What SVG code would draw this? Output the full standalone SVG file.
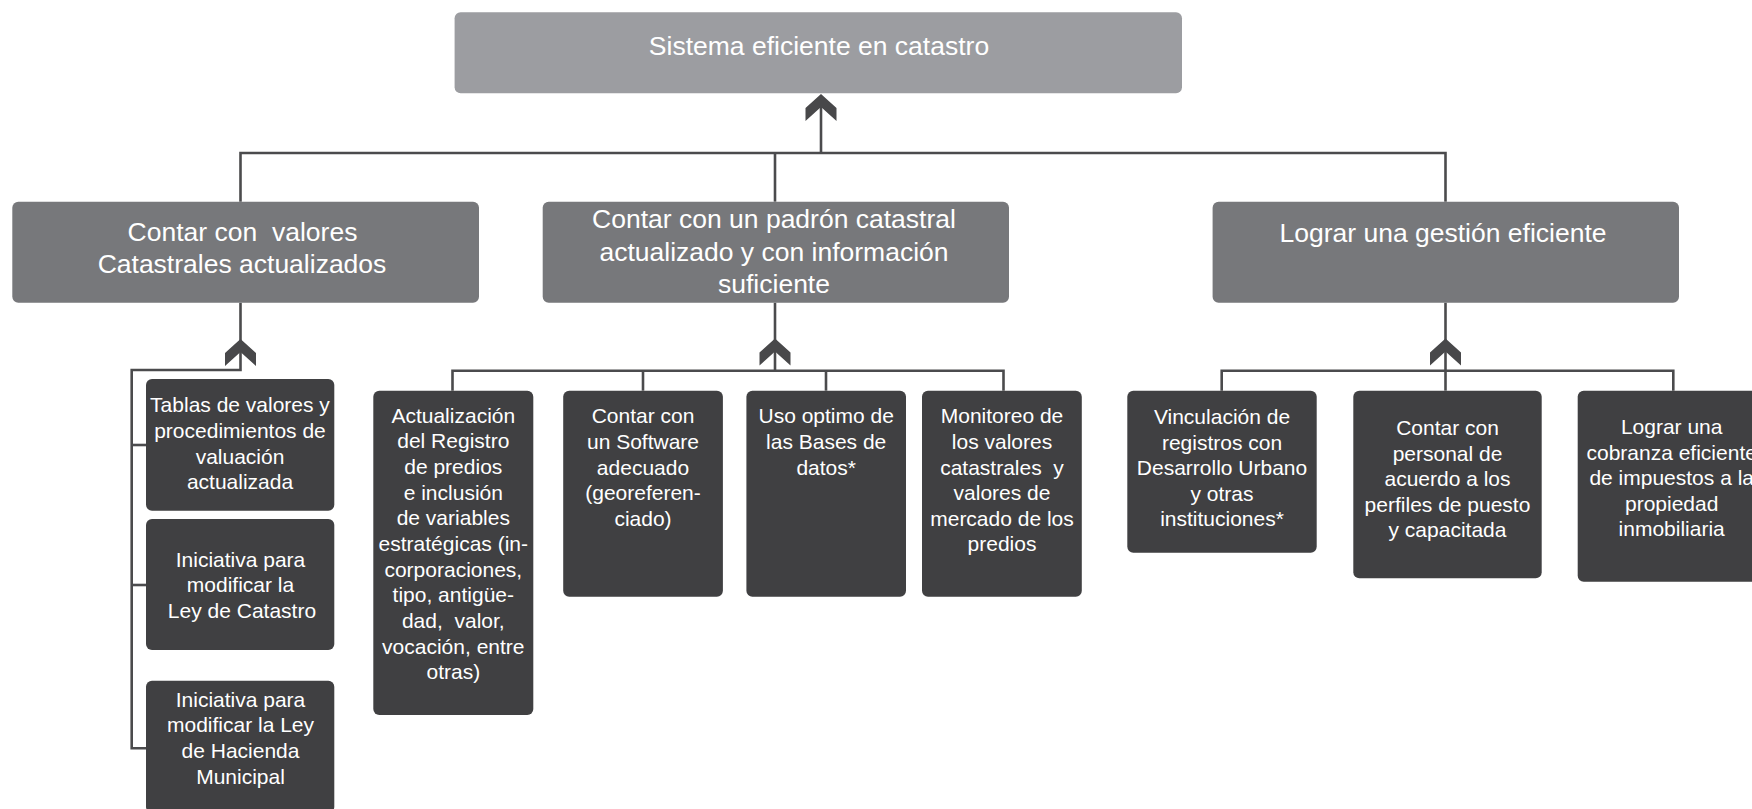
<svg xmlns="http://www.w3.org/2000/svg" width="1752" height="809" viewBox="0 0 1752 809">
<defs>
<style>
.top{fill:#9c9da1}
.mid{fill:#77787b}
.leaf{fill:#404042}
.t{font-family:"Liberation Sans",Arial,Helvetica,sans-serif;fill:#ffffff;text-anchor:middle;white-space:pre}
.t26{font-size:26.5px}
.t21{font-size:21px}
.ln{stroke:#4b4b4d;stroke-width:2.6;fill:none}
.ah{fill:#48484a}
</style>
<polygon id="arrow" points="0,0 15.5,14 15.5,27 0,13 -15.5,27 -15.5,14"/>
</defs>

<g id="connectors">
  <!-- top level -->
  <polyline class="ln" points="240.5,201.7 240.5,153 1445.5,153 1445.5,201.7"/>
  <line class="ln" x1="775" y1="153" x2="775" y2="201.7"/>
  <line class="ln" x1="821" y1="96" x2="821" y2="153"/>
  <use href="#arrow" class="ah" x="821" y="94"/>
  <!-- left group -->
  <polyline class="ln" points="240.5,302.7 240.5,370 131.7,370 131.7,748.3 146,748.3"/>
  <line class="ln" x1="131.7" y1="445" x2="146" y2="445"/>
  <line class="ln" x1="131.7" y1="585" x2="146" y2="585"/>
  <use href="#arrow" class="ah" x="240.5" y="339"/>
  <!-- middle group -->
  <line class="ln" x1="775" y1="302.7" x2="775" y2="370.7"/>
  <polyline class="ln" points="452.5,390.7 452.5,370.7 1003.5,370.7 1003.5,390.7"/>
  <line class="ln" x1="643" y1="370.7" x2="643" y2="390.7"/>
  <line class="ln" x1="826" y1="370.7" x2="826" y2="390.7"/>
  <use href="#arrow" class="ah" x="775" y="338.5"/>
  <!-- right group -->
  <line class="ln" x1="1445.5" y1="302.7" x2="1445.5" y2="390.7"/>
  <polyline class="ln" points="1221.7,390.7 1221.7,370.7 1673.3,370.7 1673.3,390.7"/>
  <use href="#arrow" class="ah" x="1445.5" y="338.5"/>
</g>

<g id="n-root">
  <rect class="top" x="454.6" y="12.3" width="727.4" height="81" rx="6"/>
  <text class="t t26" x="819" y="55">Sistema eficiente en catastro</text>
</g>

<g id="n-valores">
  <rect class="mid" x="12.3" y="201.7" width="466.7" height="101" rx="6"/>
  <text class="t t26" xml:space="preserve"><tspan x="242.5" y="240.7">Contar con  valores</tspan><tspan x="242" y="273.3">Catastrales actualizados</tspan></text>
</g>

<g id="n-padron">
  <rect class="mid" x="542.7" y="201.7" width="466.3" height="101" rx="6"/>
  <text class="t t26"><tspan x="774" y="228.3">Contar con un padrón catastral</tspan><tspan x="774" y="261">actualizado y con información</tspan><tspan x="774" y="293.3">suficiente</tspan></text>
</g>

<g id="n-gestion">
  <rect class="mid" x="1212.6" y="201.7" width="466.4" height="101" rx="6"/>
  <text class="t t26" x="1443" y="241.5">Lograr una gestión eficiente</text>
</g>

<g id="n-tablas">
  <rect class="leaf" x="146" y="379" width="188.3" height="131.7" rx="6"/>
  <text class="t t21"><tspan x="240" y="412.3">Tablas de valores y</tspan><tspan x="240" y="437.9">procedimientos de</tspan><tspan x="240" y="463.5">valuación</tspan><tspan x="240" y="489.1">actualizada</tspan></text>
</g>

<g id="n-leycatastro">
  <rect class="leaf" x="146" y="519" width="188.3" height="131" rx="6"/>
  <text class="t t21"><tspan x="240.5" y="566.7">Iniciativa para</tspan><tspan x="240.5" y="592.3">modificar la</tspan><tspan x="242" y="617.9">Ley de Catastro</tspan></text>
</g>

<g id="n-leyhacienda">
  <rect class="leaf" x="146" y="680.7" width="188.3" height="132" rx="6"/>
  <text class="t t21"><tspan x="240.5" y="706.7">Iniciativa para</tspan><tspan x="240.5" y="732.3">modificar la Ley</tspan><tspan x="240.5" y="757.9">de Hacienda</tspan><tspan x="240.5" y="783.5">Municipal</tspan></text>
</g>

<g id="n-registro">
  <rect class="leaf" x="373.3" y="390.7" width="160" height="324.3" rx="6"/>
  <text class="t t21" xml:space="preserve"><tspan x="453.3" y="422.7">Actualización</tspan><tspan x="453.3" y="448.4">del Registro</tspan><tspan x="453.3" y="474">de predios</tspan><tspan x="453.3" y="499.7">e inclusión</tspan><tspan x="453.3" y="525.3">de variables</tspan><tspan x="453.3" y="551">estratégicas (in-</tspan><tspan x="453.3" y="576.7">corporaciones,</tspan><tspan x="453.3" y="602.3">tipo, antigüe-</tspan><tspan x="453.3" y="628">dad,  valor,</tspan><tspan x="453.3" y="653.7">vocación, entre</tspan><tspan x="453.3" y="679.3">otras)</tspan></text>
</g>

<g id="n-software">
  <rect class="leaf" x="563.2" y="390.7" width="159.7" height="206" rx="6"/>
  <text class="t t21"><tspan x="643" y="423.3">Contar con</tspan><tspan x="643" y="448.9">un Software</tspan><tspan x="643" y="474.5">adecuado</tspan><tspan x="643" y="500.1">(georeferen-</tspan><tspan x="643" y="525.7">ciado)</tspan></text>
</g>

<g id="n-bases">
  <rect class="leaf" x="746.4" y="390.7" width="159.6" height="206" rx="6"/>
  <text class="t t21"><tspan x="826.2" y="423.3">Uso optimo de</tspan><tspan x="826.2" y="448.9">las Bases de</tspan><tspan x="826.2" y="474.5">datos*</tspan></text>
</g>

<g id="n-monitoreo">
  <rect class="leaf" x="922" y="390.7" width="159.8" height="206" rx="6"/>
  <text class="t t21" xml:space="preserve"><tspan x="1002" y="423.3">Monitoreo de</tspan><tspan x="1002" y="448.9">los valores</tspan><tspan x="1002" y="474.5">catastrales  y</tspan><tspan x="1002" y="500.1">valores de</tspan><tspan x="1002" y="525.7">mercado de los</tspan><tspan x="1002" y="551.3">predios</tspan></text>
</g>

<g id="n-vinculacion">
  <rect class="leaf" x="1127.3" y="390.7" width="189.4" height="162" rx="6"/>
  <text class="t t21"><tspan x="1222" y="424">Vinculación de</tspan><tspan x="1222" y="449.6">registros con</tspan><tspan x="1222" y="475.2">Desarrollo Urbano</tspan><tspan x="1222" y="500.8">y otras</tspan><tspan x="1222" y="526.4">instituciones*</tspan></text>
</g>

<g id="n-personal">
  <rect class="leaf" x="1353.3" y="390.7" width="188.4" height="187.6" rx="6"/>
  <text class="t t21"><tspan x="1447.5" y="435">Contar con</tspan><tspan x="1447.5" y="460.6">personal de</tspan><tspan x="1447.5" y="486.2">acuerdo a los</tspan><tspan x="1447.5" y="511.8">perfiles de puesto</tspan><tspan x="1447.5" y="537.4">y capacitada</tspan></text>
</g>

<g id="n-cobranza">
  <rect class="leaf" x="1577.7" y="390.7" width="188" height="191" rx="6"/>
  <text class="t t21"><tspan x="1671.7" y="434">Lograr una</tspan><tspan x="1671.7" y="459.6">cobranza eficiente</tspan><tspan x="1671.7" y="485.2">de impuestos a la</tspan><tspan x="1671.7" y="510.8">propiedad</tspan><tspan x="1671.7" y="536.4">inmobiliaria</tspan></text>
</g>
</svg>
